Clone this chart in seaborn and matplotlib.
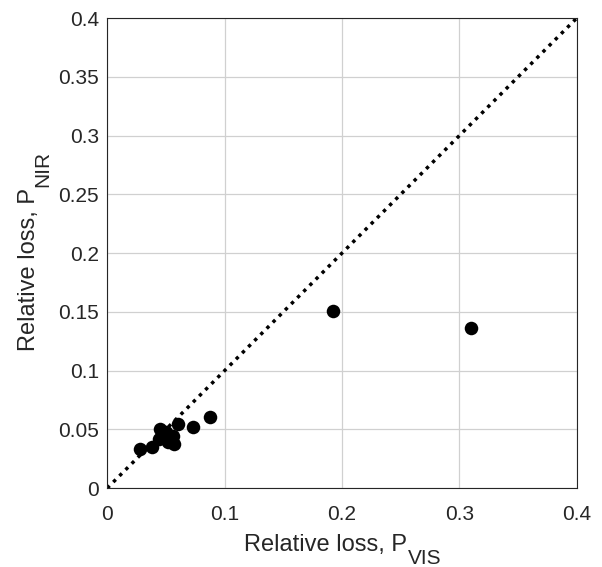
import matplotlib
matplotlib.use("Agg")
import matplotlib.pyplot as plt
import seaborn as sns
import pandas as pd

sns.set_style("white")
plt.rcParams['font.family'] = ['Liberation Sans', 'DejaVu Sans']

p_vis = [0.192, 0.310, 0.088, 0.073, 0.060, 0.028, 0.038, 0.045, 0.050, 0.052, 0.047, 0.056, 0.044, 0.057]
p_nir = [0.151, 0.136, 0.061, 0.052, 0.055, 0.033, 0.035, 0.050, 0.048, 0.039, 0.045, 0.044, 0.042, 0.038]
diag = [0.0, 0.4]
yticks = [0, 0.05, 0.1, 0.15, 0.2, 0.25, 0.3, 0.35, 0.4]
ytick_labels = ["0", "0.05", "0.1", "0.15", "0.2", "0.25", "0.3", "0.35", "0.4"]
xticks = [0, 0.1, 0.2, 0.3, 0.4]
xtick_labels = ["0", "0.1", "0.2", "0.3", "0.4"]

df = pd.DataFrame({"vis": p_vis, "nir": p_nir})
dg = pd.DataFrame({"a": diag, "b": diag})

TXT = '#262626'
fig = plt.figure(figsize=(6.02, 5.67), dpi=100)
ax = fig.add_axes([0.178, 0.139, 0.780, 0.829])

sns.lineplot(data=dg, x="a", y="b", ax=ax, color='black', linewidth=2.5, zorder=2)
ax.lines[0].set_linestyle((0, (1, 1.5)))
sns.scatterplot(data=df, x="vis", y="nir", ax=ax, color='black', s=95, edgecolor='black', linewidth=0, zorder=3)

ax.set_xlim(0, 0.4)
ax.set_ylim(0, 0.4)
ax.set_xticks(xticks)
ax.set_xticklabels(xtick_labels)
ax.set_yticks(yticks)
ax.set_yticklabels(ytick_labels)
ax.grid(True, color='#d0d0d0', linewidth=0.9)
ax.set_axisbelow(True)
for s in ax.spines.values():
    s.set_color(TXT)
    s.set_linewidth(0.8)
    s.set_visible(True)
ax.tick_params(direction='in', length=4, labelsize=15, colors=TXT, top=False, right=False)
ax.tick_params(axis='x', pad=12)
ax.tick_params(axis='y', pad=6)
ax.set_xlabel("Relative loss, P", fontsize=17, color=TXT, labelpad=7)
ax.set_ylabel("Relative loss, P", fontsize=17, color=TXT, labelpad=13)
ax.xaxis.label.set_x(0.465)
ax.yaxis.label.set_y(0.465)

ax.annotate("VIS", xy=(1, 0), xycoords=ax.xaxis.label, xytext=(0.5, 5),
            textcoords='offset points', ha='left', va='top', fontsize=15, color=TXT)
ax.annotate("NIR", xy=(1, 1), xycoords=ax.yaxis.label, xytext=(-5, 0.5),
            textcoords='offset points', ha='left', va='bottom', rotation=90,
            fontsize=15, color=TXT)

fig.savefig("out.png", dpi=100)
